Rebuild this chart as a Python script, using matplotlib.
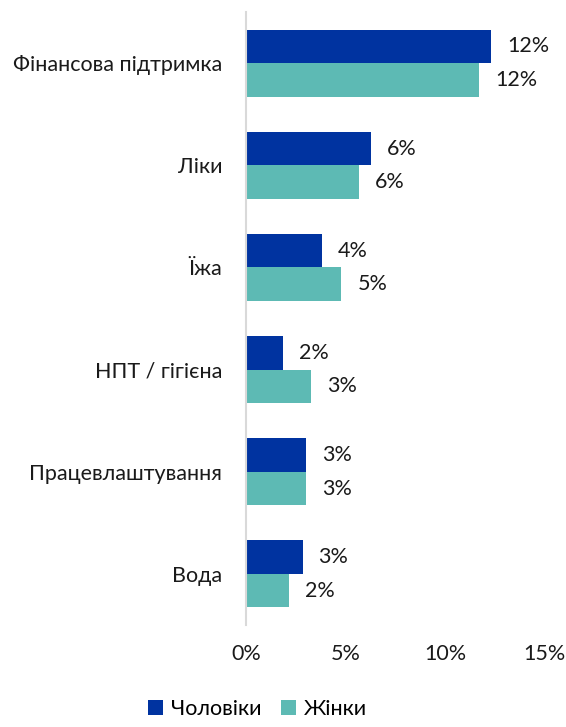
import numpy as np
import matplotlib
matplotlib.use("Agg")
import matplotlib.pyplot as plt

categories = ["Фінансова підтримка", "Ліки", "Їжа", "НПТ / гігієна",
              "Працевлаштування", "Вода"]
men = [12.3, 6.25, 3.8, 1.87, 3.02, 2.84]
women = [11.7, 5.67, 4.79, 3.25, 3.0, 2.17]
series_names = ["Чоловіки", "Жінки"]
colors = ["#0033A0", "#5DBAB4"]
xticks = [0, 5, 10, 15]

plt.rcParams["font.family"] = ["Lato", "DejaVu Sans"]
fs = 15.5

fig = plt.figure(figsize=(5.66, 7.27), dpi=100)
ax = fig.add_axes([0.4346, 0.1403, 0.528, 0.843])

y = np.arange(len(categories))
h = 0.328
bars_m = ax.barh(y - h / 2, men, height=h, color=colors[0], label=series_names[0])
bars_w = ax.barh(y + h / 2, women, height=h, color=colors[1], label=series_names[1])

for bars, vals in [(bars_m, men), (bars_w, women)]:
    for b, v in zip(bars, vals):
        ax.annotate(f"{round(v):.0f}%", (b.get_width(), b.get_y() + b.get_height() / 2),
                    xytext=(16, 0), textcoords="offset pixels",
                    va="center", ha="left", fontsize=fs, color="#1a1a1a")

ax.set_ylim(len(categories) - 0.5, -0.5)
ax.set_xlim(0, 15)
ax.set_yticks(y)
ax.set_yticklabels(categories, fontsize=fs, color="#1a1a1a")
ax.set_xticks(xticks)
ax.set_xticklabels([f"{t}%" for t in xticks], fontsize=fs, color="#1a1a1a")
ax.tick_params(axis="both", length=0)
ax.tick_params(axis="y", pad=17)
ax.tick_params(axis="x", pad=14)

for s in ["top", "right", "bottom"]:
    ax.spines[s].set_visible(False)
ax.spines["left"].set_color("#d9d9d9")
ax.spines["left"].set_linewidth(1.5)

fig.legend(loc="lower center", bbox_to_anchor=(0.455, -0.016), ncol=2, frameon=False,
           fontsize=fs, handlelength=0.7, handleheight=0.7, handletextpad=0.35,
           columnspacing=0.9)

fig.savefig("out.png", dpi=100)
